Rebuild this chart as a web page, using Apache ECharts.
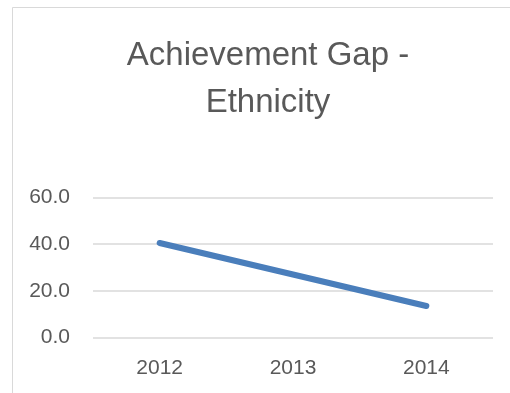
<!DOCTYPE html>
<html>
<head>
<meta charset="utf-8">
<script src="https://cdn.jsdelivr.net/npm/echarts@6/dist/echarts.min.js"></script>
<style>
  html, body { margin: 0; padding: 0; background: #fff; }
  #chart { width: 510px; height: 393px; }
</style>
</head>
<body>
<div id="chart"></div>
<script>
// Achievement gap by ethnicity, per school year
const years = ['2012', '2013', '2014'];
const gapValues = [40.5, 27.0, 13.5];
const yTicks = [0, 20, 40, 60];

const chart = echarts.init(document.getElementById('chart'), null, { renderer: 'canvas' });

chart.setOption({
  backgroundColor: '#ffffff',
  animation: false,
  title: {
    text: 'Achievement Gap -\nEthnicity',
    left: 263,
    top: 27,
    textAlign: 'center',
    textStyle: {
      fontFamily: 'Liberation Sans',
      fontWeight: 'normal',
      fontSize: 33,
      lineHeight: 47,
      color: '#595959'
    }
  },
  graphic: [{
    type: 'rect',
    shape: { x: 12.5, y: 7.5, width: 520, height: 400 },
    style: { fill: 'none', stroke: '#d9d9d9', lineWidth: 1 },
    silent: true
  }],
  grid: { left: 93, right: 17, top: 197.5, bottom: 393 - 337.5 },
  xAxis: {
    type: 'category',
    data: years,
    boundaryGap: true,
    axisLine: { show: false },
    axisTick: { show: false },
    axisLabel: {
      margin: 20,
      fontFamily: 'Liberation Sans',
      fontSize: 21,
      color: '#595959'
    }
  },
  yAxis: {
    type: 'value',
    min: yTicks[0],
    max: yTicks[yTicks.length - 1],
    interval: 20,
    axisLine: { show: false },
    axisTick: { show: false },
    axisLabel: {
      margin: 23,
      fontFamily: 'Liberation Sans',
      fontSize: 21,
      color: '#595959',
      formatter: v => v.toFixed(1)
    },
    splitLine: { lineStyle: { color: '#d9d9d9', width: 1.5 } }
  },
  series: [{
    type: 'line',
    data: gapValues,
    symbol: 'none',
    lineStyle: { color: '#4a7ebb', width: 6, cap: 'round', join: 'round' }
  }]
});
</script>
</body>
</html>
